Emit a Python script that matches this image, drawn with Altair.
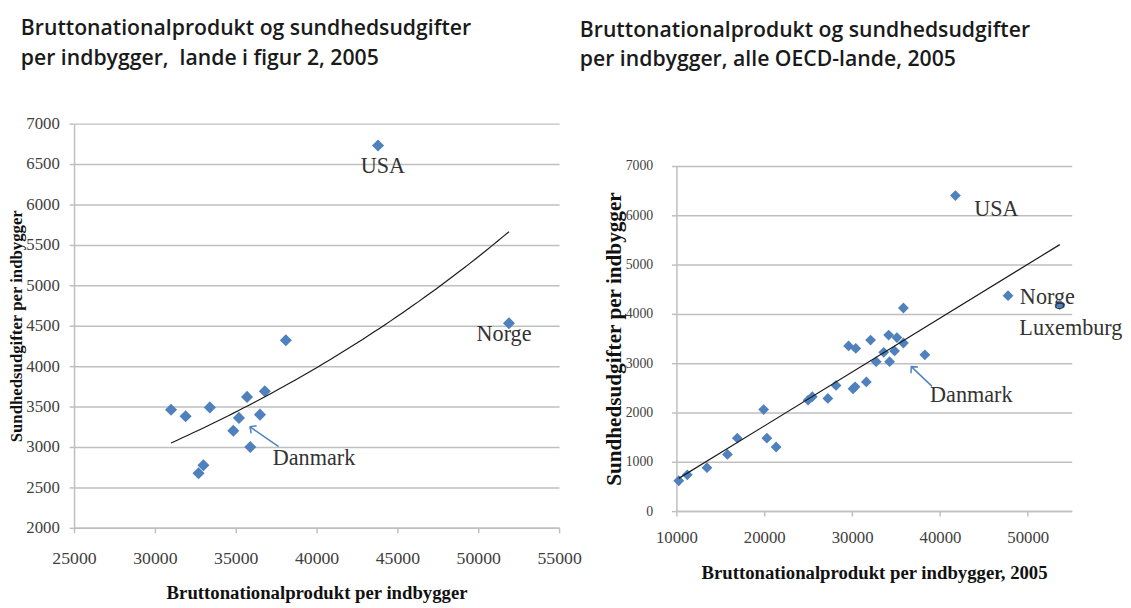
import altair as alt
import pandas as pd

# ---------------- data ----------------
left_gdp = [31000, 31900, 33400, 38100, 35700, 36800, 35200, 36500, 34850, 35900, 33000, 32700, 43800, 51900]
left_health = [3460, 3380, 3490, 4320, 3620, 3690, 3360, 3400, 3200, 3000, 2775, 2675, 6730, 4530]
left_label = ["", "", "", "", "", "", "", "", "Danmark", "", "", "", "USA", "Norge"]

right_gdp = [10270, 11240, 13480, 15810, 16930, 19930, 20300, 21350, 24990, 25470,
             27240, 28170, 29600, 30420, 30340, 30100, 31620, 32100, 32740, 33600,
             34160, 34270, 34830, 35100, 35840, 35840, 38280, 41760, 47750, 53640]
right_health = [615, 735, 880, 1150, 1480, 2060, 1480, 1300, 2250, 2320,
                2285, 2550, 3350, 3300, 2520, 2480, 2620, 3470, 3030, 3220,
                3570, 3030, 3250, 3520, 4120, 3410, 3170, 6400, 4370, 4190]
right_label = [""] * 21 + ["Danmark"] + [""] * 5 + ["USA", "Norge", "Luxemburg"]

left_title = ["Bruttonationalprodukt og sundhedsudgifter", "per indbygger,\u00a0 lande i figur 2, 2005"]
right_title = ["Bruttonationalprodukt og sundhedsudgifter", "per indbygger, alle OECD-lande, 2005"]
left_x_title = "Bruttonationalprodukt per indbygger"
right_x_title = "Bruttonationalprodukt per indbygger, 2005"
y_title = "Sundhedsudgifter per indbygger"

left_x_ticks = [25000, 30000, 35000, 40000, 45000, 50000, 55000]
left_y_ticks = [2000, 2500, 3000, 3500, 4000, 4500, 5000, 5500, 6000, 6500, 7000]
right_x_ticks = [10000, 20000, 30000, 40000, 50000]
right_y_ticks = [0, 1000, 2000, 3000, 4000, 5000, 6000, 7000]

left_df = pd.DataFrame({"gdp": left_gdp, "health": left_health, "label": left_label})
right_df = pd.DataFrame({"gdp": right_gdp, "health": right_health, "label": right_label})

# ---------------- style ----------------
SERIF = "Liberation Serif"
BLUE = "#4F81BD"
GRID = "#BFBFBF"
TXT = "#333333"


def x_axis(values, title, lsize, lpad, tsize, tpad):
    return alt.Axis(values=values, title=title, grid=False, format="d",
                    domainColor=GRID, domainWidth=1.5, tickColor=GRID, tickSize=5, tickWidth=1.5,
                    labelFont=SERIF, labelFontSize=lsize, labelColor="#404040", labelPadding=lpad,
                    labelFlush=False, labelOverlap=False,
                    titleFont=SERIF, titleFontSize=tsize, titleFontWeight="bold", titleColor="#111111",
                    titlePadding=tpad)


def y_axis(values, title, lsize, lpad, tsize, tpad):
    return alt.Axis(values=values, title=title, grid=True, gridColor=GRID, gridWidth=1.5, format="d",
                    domainColor=GRID, domainWidth=1.5, tickColor=GRID, tickSize=5, tickWidth=1.5,
                    labelFont=SERIF, labelFontSize=lsize, labelColor="#404040", labelPadding=lpad,
                    labelOverlap=False, labelFlush=False,
                    titleFont=SERIF, titleFontSize=tsize, titleFontWeight="bold", titleColor="#111111",
                    titlePadding=tpad)


def panel(df, xdom, ydom, xax, yax, exp_fit, labels, arrow, w, h, psize):
    x = alt.X("gdp:Q", scale=alt.Scale(domain=xdom, nice=False, zero=False), axis=xax)
    y = alt.Y("health:Q", scale=alt.Scale(domain=ydom, nice=False, zero=False), axis=yax)
    base = alt.Chart(df)
    points = base.mark_point(shape="diamond", filled=True, color=BLUE, size=psize, opacity=1).encode(x=x, y=y)
    if exp_fit:
        # Excel-style exponential trendline: least squares on ln(y), drawn over the data's x extent
        trend = (base
                 .transform_joinaggregate(xmin="min(gdp)", xmax="max(gdp)")
                 .transform_calculate(logh="log(datum.health)")
                 .transform_regression("gdp", "logh", method="linear", params=True, groupby=["xmin", "xmax"])
                 .transform_calculate(
                     lo="datum.keys ? datum.keys[0] : datum.xmin",
                     hi="datum.keys ? datum.keys[1] : datum.xmax")
                 .transform_calculate(gx="sequence(datum.lo, datum.hi + (datum.hi - datum.lo) / 120, (datum.hi - datum.lo) / 60)")
                 .transform_flatten(["gx"])
                 .transform_calculate(gdp="datum.gx", health="exp(datum.coef[0] + datum.coef[1] * datum.gx)")
                 .mark_line(color="#1a1a1a", strokeWidth=1.2).encode(x=x, y=y))
    else:
        trend = base.transform_regression("gdp", "health", method="linear").mark_line(
            color="#1a1a1a", strokeWidth=1.2).encode(x=x, y=y)
    layers = [points, trend]
    for name, align, dx, dy in labels:
        layers.append(base.transform_filter(alt.datum.label == name).mark_text(
            font=SERIF, fontSize=22.5, color=TXT, align=align, baseline="alphabetic", dx=dx, dy=dy
        ).encode(x=x, y=y, text="label:N"))
    (name, tail, tip, ang) = arrow
    sub = base.transform_filter(alt.datum.label == name)
    layers.append(sub.mark_rule(color=BLUE, strokeWidth=1.5, xOffset=tail[0], yOffset=tail[1],
                                x2Offset=tip[0], y2Offset=tip[1]).encode(
        x=x, y=y, x2=alt.X2("gdp"), y2=alt.Y2("health")))
    layers.append(sub.mark_point(shape="M1,-1L0,0L1,1", filled=False, color=BLUE, strokeWidth=1.5,
                                 size=90, angle=ang, opacity=1, xOffset=tip[0], yOffset=tip[1]).encode(x=x, y=y))
    return alt.layer(*layers).properties(width=w, height=h)


def head(text, dx, dy):
    return alt.TitleParams(text=text, anchor="start", frame="group", font="Open Sans", fontSize=21.5,
                           fontWeight=600, color="#1a1a1a", lineHeight=30, dx=dx, dy=dy, offset=46)


left_plot = panel(left_df, [25000, 55000], [2000, 7000],
                  x_axis(left_x_ticks, left_x_title, 18, 17, 19, 17),
                  y_axis(left_y_ticks, y_title, 17, 10, 17, 0),
                  True,
                  [("USA", "center", 5, 28), ("Norge", "center", -5, 18), ("Danmark", "left", 40, 35)],
                  ("Danmark", (46, 16), (17, -4), 35),
                  492, 410, 150)

right_plot = panel(right_df, [10000, 55000], [0, 7000],
                   x_axis(right_x_ticks, right_x_title, 17, 14, 19, 18),
                   y_axis(right_y_ticks, y_title, 14, 19, 21.5, 0),
                   False,
                   [("USA", "left", 19, 21), ("Norge", "left", 12, 8), ("Luxemburg", "left", -41, 31),
                    ("Danmark", "left", 41, 41)],
                   ("Danmark", (43, 25), (22, 5), 48),
                   401, 350, 120)

spacer = alt.Chart(pd.DataFrame({"v": [0]})).mark_point(opacity=0, size=1).encode(
    x=alt.value(0), y=alt.value(0)).properties(width=10, height=36)

left_cell = alt.vconcat(left_plot).properties(title=head(left_title, -54, 0))
right_cell = alt.vconcat(spacer, right_plot, spacing=0).properties(title=head(right_title, -98, -7))

chart = (alt.hconcat(left_cell, right_cell, spacing=-2)
         .properties(padding={"left": 0, "top": 6, "right": 0, "bottom": 0})
         .configure_view(strokeWidth=0))

chart.save("out.html", embed_options={"renderer": "svg", "actions": False})
